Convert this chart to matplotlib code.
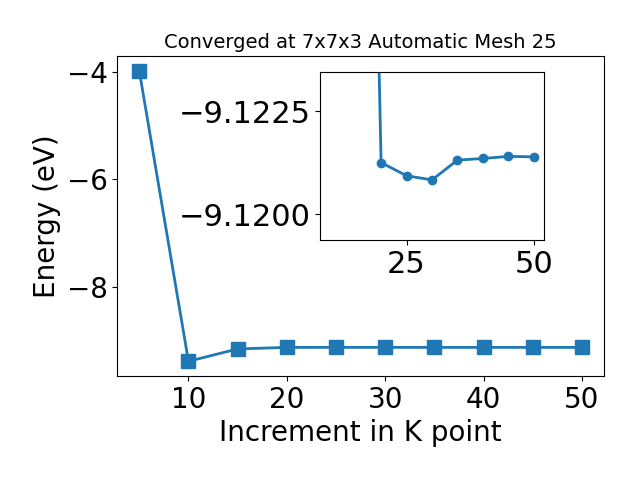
import numpy as np
import matplotlib
matplotlib.use("Agg")
import matplotlib.pyplot as plt

# k-point increment vs total energy (eV)
kpoints = [5, 10, 15, 20, 25, 30, 35, 40, 45, 50]
energy = [-3.98, -9.38, -9.15, -9.12125, -9.12093, -9.12083,
          -9.12131, -9.12135, -9.12140, -9.12139]

labelsize = 20

fig = plt.figure(figsize=(6.4, 4.8), dpi=100)
ax = fig.add_axes([0.183, 0.217, 0.761, 0.666])
ax.plot(kpoints, energy, marker='s', ms=10, lw=2, color='#1f77b4')
ax.set_xticks([10, 20, 30, 40, 50])
ax.set_yticks([-8, -6, -4])
ax.tick_params(labelsize=labelsize)
ax.set_xlabel("Increment in K point", size=labelsize)
ax.set_ylabel("Energy (eV)", size=labelsize)
ax.set_title("Converged at 7x7x3 Automatic Mesh 25", size=14)

# zoomed inset on the converged region
ax2 = fig.add_axes([0.5, 0.5, 0.35, 0.35])
ax2.plot(kpoints[1:], energy[1:], marker='o', ms=6, lw=2, color='#1f77b4')
ax2.set_ylim(-9.11937, -9.12345)
ax2.set_yticks([-9.1225, -9.1200])
ax2.set_xticks([25, 50])
ax2.tick_params(labelsize=22)

fig.savefig("out.png", dpi=100)
